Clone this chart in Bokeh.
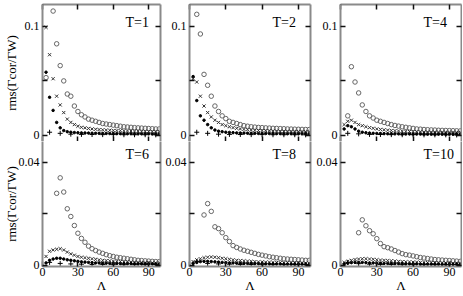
import numpy as np
from bokeh.plotting import figure
from bokeh.layouts import gridplot
from bokeh.models import Range1d, LinearAxis, FixedTicker, Label
from bokeh.embed import file_html
from bokeh.resources import INLINE

# ---- data ----
TITLES = ["T=1", "T=2", "T=4", "T=6", "T=8", "T=10"]
X_TICKS = [0, 30, 60, 90]
Y_TICKS_TOP = [0, 0.1]
Y_MINOR_TOP = [0.05]
Y_TICKS_BOT = [0, 0.04]
Y_MINOR_BOT = [0.02]

LAM = [3, 6, 9, 12, 15, 18, 21, 24, 27, 30, 33, 36, 39, 42, 45, 48, 51,
       54, 57, 60, 63, 66, 69, 72, 75, 78, 81, 84, 87, 90, 93, 96, 99]
PLUS_LAM = [6, 15, 24, 33, 42, 51, 60, 69, 78, 87, 96]

T1_CIRC = [0.053, None, 0.114, 0.084, 0.064, 0.050, 0.038, 0.036, 0.027, 0.022, 0.019,
           0.017, 0.015, 0.014, 0.013, 0.012, 0.011, 0.0105, 0.010, 0.0095, 0.009, 0.0085,
           0.008, 0.0078, 0.0075, 0.0072, 0.007, 0.0068, 0.0066, 0.0064, 0.0062, 0.006, 0.006]
T1_CROSS = [0.099, 0.074, 0.052, 0.036, 0.028, 0.021, 0.015, 0.012, 0.010, 0.0085, 0.0075,
            0.007, 0.0065, 0.006, 0.0057, 0.0054, 0.0052, 0.005, 0.0048, 0.0046, 0.0045, 0.0044,
            0.0043, 0.0042, 0.0041, 0.004, 0.004, 0.0039, 0.0038, 0.0038, 0.0037, 0.0037, 0.0036]
T1_DOT = [0.058, 0.035, 0.023, 0.012, 0.007, 0.0045, 0.0035, 0.003, 0.0027, 0.0025, 0.0024,
          0.0023, 0.0022, 0.0021, 0.002, 0.002, 0.0019, 0.0019, 0.0018, 0.0018, 0.0017, 0.0017,
          0.0017, 0.0016, 0.0016, 0.0016, 0.0015, 0.0015, 0.0015, 0.0015, 0.0014, 0.0014, 0.0014]
T1_PLUS = [0.003, 0.002, 0.0012, 0.001, 0.0009, 0.0008, 0.0008, 0.0007, 0.0007, 0.0007, 0.0006]

T2_CIRC = [None, 0.111, 0.093, 0.056, 0.046, 0.036, 0.027, 0.022, 0.018, 0.0155, 0.013,
           0.012, 0.011, 0.010, 0.009, 0.0085, 0.008, 0.0077, 0.0074, 0.0072, 0.007, 0.0068,
           0.0066, 0.0065, 0.0063, 0.0062, 0.006, 0.0059, 0.0058, 0.0057, 0.0056, 0.0055, 0.0055]
T2_CROSS = [0.052, 0.049, 0.036, 0.027, 0.021, 0.017, 0.014, 0.012, 0.010, 0.009, 0.008,
            0.0072, 0.0066, 0.006, 0.0056, 0.0053, 0.005, 0.0048, 0.0046, 0.0045, 0.0044, 0.0043,
            0.0042, 0.0041, 0.004, 0.004, 0.0039, 0.0038, 0.0038, 0.0037, 0.0037, 0.0036, 0.0036]
T2_DOT = [0.054, 0.032, 0.018, 0.014, 0.010, 0.007, 0.005, 0.004, 0.0035, 0.003, 0.0028,
          0.0026, 0.0024, 0.0023, 0.0022, 0.0021, 0.002, 0.002, 0.0019, 0.0019, 0.0018, 0.0018,
          0.0017, 0.0017, 0.0017, 0.0016, 0.0016, 0.0016, 0.0015, 0.0015, 0.0015, 0.0015, 0.0014]
T2_PLUS = [0.003, 0.002, 0.0012, 0.001, 0.0009, 0.0008, 0.0008, 0.0007, 0.0007, 0.0007, 0.0006]

T4_CIRC = [None, 0.018, 0.063, 0.049, 0.039, 0.028, 0.022, 0.018, 0.016, 0.014, 0.013,
           0.012, 0.011, 0.010, 0.0092, 0.0086, 0.008, 0.0075, 0.007, 0.0065, 0.006, 0.0058,
           0.0055, 0.0053, 0.0051, 0.005, 0.0048, 0.0047, 0.0046, 0.0045, 0.0044, 0.0043, 0.0042]
T4_CROSS = [0.010, 0.013, 0.014, 0.012, 0.010, 0.009, 0.008, 0.0072, 0.0066, 0.006, 0.0056,
            0.0052, 0.0049, 0.0046, 0.0044, 0.0042, 0.004, 0.0038, 0.0037, 0.0036, 0.0035, 0.0034,
            0.0033, 0.0033, 0.0032, 0.0032, 0.0031, 0.0031, 0.003, 0.003, 0.003, 0.0029, 0.0029]
T4_DOT = [0.006, 0.009, 0.008, 0.006, 0.004, 0.003, 0.0025, 0.0022, 0.002, 0.0019, 0.0018,
          0.0017, 0.0016, 0.0016, 0.0015, 0.0015, 0.0014, 0.0014, 0.0014, 0.0013, 0.0013, 0.0013,
          0.0013, 0.0012, 0.0012, 0.0012, 0.0012, 0.0012, 0.0011, 0.0011, 0.0011, 0.0011, 0.0011]
T4_PLUS = [0.002, 0.0015, 0.001, 0.0009, 0.0008, 0.0007, 0.0007, 0.0006, 0.0006, 0.0006, 0.0005]

T6_CIRC = [None, None, None, 0.028, 0.034, 0.0285, 0.022, 0.019, 0.0155, 0.0125, 0.0105,
           0.009, 0.0075, 0.0065, 0.0058, 0.0052, 0.0047, 0.0042, 0.0038, 0.0035, 0.0032, 0.003,
           0.0028, 0.0026, 0.0024, 0.0022, 0.002, 0.0019, 0.0018, 0.0017, 0.0016, 0.0015, 0.0015]
T6_CROSS = [0.0035, 0.0055, 0.006, 0.0063, 0.0065, 0.006, 0.0052, 0.0045, 0.004, 0.0035, 0.0032,
            0.003, 0.0028, 0.0026, 0.0024, 0.0022, 0.002, 0.0019, 0.0018, 0.0017, 0.0016, 0.0015,
            0.0014, 0.0014, 0.0013, 0.0013, 0.0012, 0.0012, 0.0011, 0.0011, 0.001, 0.001, 0.001]
T6_DOT = [0.001, 0.002, 0.0025, 0.0028, 0.0028, 0.0025, 0.0022, 0.002, 0.0018, 0.0016, 0.0014,
          0.0013, 0.0012, 0.0011, 0.001, 0.001, 0.0009, 0.0009, 0.0008, 0.0008, 0.0008, 0.0007,
          0.0007, 0.0007, 0.0007, 0.0006, 0.0006, 0.0006, 0.0006, 0.0006, 0.0006, 0.0005, 0.0005]
T6_PLUS = [0.0012, 0.0008, 0.0006, 0.0005, 0.0004, 0.0004, 0.0003, 0.0003, 0.0003, 0.0003, 0.0003]

T8_CIRC = [None, None, None, 0.0196, 0.024, 0.021, 0.015, 0.0143, 0.0127, 0.0108, 0.0093,
           0.0077, 0.007, 0.0064, 0.0059, 0.0055, 0.0051, 0.0047, 0.0043, 0.004, 0.0037, 0.0034,
           0.0032, 0.003, 0.0028, 0.0026, 0.0025, 0.0024, 0.0023, 0.0022, 0.0021, 0.002, 0.002]
T8_CROSS = [0.0015, 0.0022, 0.0026, 0.003, 0.0032, 0.0033, 0.0032, 0.003, 0.0028, 0.0026, 0.0024,
            0.0022, 0.002, 0.0019, 0.0018, 0.0017, 0.0016, 0.0015, 0.0014, 0.0014, 0.0013, 0.0013,
            0.0012, 0.0012, 0.0011, 0.0011, 0.0011, 0.001, 0.001, 0.001, 0.0009, 0.0009, 0.0009]
T8_DOT = [0.0008, 0.0012, 0.0015, 0.0016, 0.0016, 0.0015, 0.0014, 0.0013, 0.0012, 0.0011, 0.001,
          0.001, 0.0009, 0.0009, 0.0008, 0.0008, 0.0008, 0.0007, 0.0007, 0.0007, 0.0006, 0.0006,
          0.0006, 0.0006, 0.0006, 0.0005, 0.0005, 0.0005, 0.0005, 0.0005, 0.0005, 0.0004, 0.0004]
T8_PLUS = [0.0015, 0.0008, 0.0006, 0.0005, 0.0004, 0.0004, 0.0003, 0.0003, 0.0003, 0.0003, 0.0003]

T10_CIRC = [None, None, None, None, 0.0127, 0.0177, 0.0154, 0.0135, 0.0123, 0.0104, 0.0085,
            0.0073, 0.0069, 0.0064, 0.0058, 0.0052, 0.0046, 0.0042, 0.004, 0.0037, 0.0034, 0.0031,
            0.0029, 0.0027, 0.0025, 0.0023, 0.0022, 0.0021, 0.002, 0.0019, 0.0018, 0.0017, 0.0016]
T10_CROSS = [0.0012, 0.0016, 0.002, 0.0023, 0.0025, 0.0026, 0.0026, 0.0025, 0.0024, 0.0022, 0.0021,
             0.002, 0.0019, 0.0018, 0.0017, 0.0016, 0.0015, 0.0014, 0.0014, 0.0013, 0.0013, 0.0012,
             0.0012, 0.0011, 0.0011, 0.0011, 0.001, 0.001, 0.001, 0.001, 0.0009, 0.0009, 0.0009]
T10_DOT = [0.0006, 0.0009, 0.0011, 0.0012, 0.0012, 0.0012, 0.0011, 0.001, 0.001, 0.0009, 0.0009,
           0.0008, 0.0008, 0.0008, 0.0007, 0.0007, 0.0007, 0.0006, 0.0006, 0.0006, 0.0006, 0.0005,
           0.0005, 0.0005, 0.0005, 0.0005, 0.0005, 0.0004, 0.0004, 0.0004, 0.0004, 0.0004, 0.0004]
T10_PLUS = [0.0012, 0.0007, 0.0005, 0.0004, 0.0004, 0.0003, 0.0003, 0.0003, 0.0003, 0.0003, 0.0003]

PANELS = [
    (T1_CIRC, T1_CROSS, T1_DOT, T1_PLUS),
    (T2_CIRC, T2_CROSS, T2_DOT, T2_PLUS),
    (T4_CIRC, T4_CROSS, T4_DOT, T4_PLUS),
    (T6_CIRC, T6_CROSS, T6_DOT, T6_PLUS),
    (T8_CIRC, T8_CROSS, T8_DOT, T8_PLUS),
    (T10_CIRC, T10_CROSS, T10_DOT, T10_PLUS),
]

YLABEL = "rms(Γcor/ΓW)"
XLABEL = "Λ"

FONT = "Liberation Serif"
FRAME_W = 121
BORDER = "#8a8a8a"
LEFT_BORDERS = [39, 27, 28]
RIGHT_BORDERS = [2, 2, 1]
TOP_FRAME_H = 137
BOT_FRAME_H = 126
TOP_BORDER = 4
BOT_BORDER = 28


def style_axis(ax, show_line=True, show_labels=False):
    ax.axis_line_color = BORDER if show_line else None
    ax.axis_line_width = 2
    ax.major_tick_in = 5
    ax.major_tick_out = 0
    ax.minor_tick_in = 5
    ax.minor_tick_out = 0
    ax.major_tick_line_color = "#111111"
    ax.minor_tick_line_color = "#111111"
    ax.major_tick_line_width = 1.5
    ax.minor_tick_line_width = 1.5
    ax.axis_label_text_font = FONT
    ax.axis_label_text_font_style = "normal"
    ax.axis_label_text_color = "black"
    if show_labels:
        ax.major_label_text_font = FONT
        ax.major_label_text_font_size = "12px"
        ax.major_label_text_color = "black"
        ax.major_label_standoff = 3
    else:
        ax.major_label_text_color = None
        ax.major_label_text_font_size = "0px"
        ax.major_label_standoff = 0


def make_panel(i):
    row, col = divmod(i, 3)
    top = row == 0
    if top:
        h = TOP_BORDER + TOP_FRAME_H
        yr = Range1d(-0.0055, 0.12)
    else:
        h = BOT_FRAME_H + BOT_BORDER
        yr = Range1d(-0.0004, 0.0481)
    w = LEFT_BORDERS[col] + FRAME_W + RIGHT_BORDERS[col]
    p = figure(width=w, height=h,
               x_range=Range1d(0, 100), y_range=yr,
               output_backend="svg", toolbar_location=None, tools="",
               min_border_left=LEFT_BORDERS[col],
               min_border_right=RIGHT_BORDERS[col],
               min_border_top=TOP_BORDER if top else 0,
               min_border_bottom=0 if top else BOT_BORDER)
    p.outline_line_color = None
    p.grid.visible = False
    p.background_fill_color = "white"
    p.border_fill_color = "white"

    xt = FixedTicker(ticks=X_TICKS)
    if top:
        yt = FixedTicker(ticks=Y_TICKS_TOP, minor_ticks=Y_MINOR_TOP)
    else:
        yt = FixedTicker(ticks=Y_TICKS_BOT, minor_ticks=Y_MINOR_BOT)

    xa = p.xaxis[0]
    xa.ticker = xt
    style_axis(xa, show_line=not top, show_labels=not top)
    if not top:
        xa.axis_label = XLABEL
        xa.axis_label_text_font_size = "13px"
        xa.axis_label_standoff = -1
        xa.major_label_standoff = 1

    ya = p.yaxis[0]
    ya.ticker = yt
    style_axis(ya, show_line=True, show_labels=True)
    if col == 0:
        ya.axis_label = YLABEL
        ya.axis_label_text_font_size = "13px"
        ya.axis_label_standoff = 3 if top else -3

    ra = LinearAxis(ticker=FixedTicker(ticks=yt.ticks, minor_ticks=yt.minor_ticks))
    style_axis(ra, show_line=True, show_labels=False)
    p.add_layout(ra, "right")

    if top:
        ta = LinearAxis(ticker=FixedTicker(ticks=X_TICKS))
        style_axis(ta, show_line=True, show_labels=False)
        p.add_layout(ta, "above")

    circ, cross, dot, plus = PANELS[i]
    lam = np.array(LAM, dtype=float)
    p.scatter(lam, np.array(circ, dtype=float), marker="circle", size=4.5,
              line_color="#666666", line_width=1, fill_color=None)
    p.scatter(lam, np.array(cross, dtype=float), marker="x", size=4.5,
              line_color="#333333", line_width=1)
    p.scatter(lam, np.array(dot, dtype=float), marker="circle", size=2.5,
              line_color="black", fill_color="black")
    p.scatter(np.array(PLUS_LAM, dtype=float), np.array(plus, dtype=float),
              marker="cross", size=5, line_color="black", line_width=1)

    fh = TOP_FRAME_H if top else BOT_FRAME_H
    p.add_layout(Label(x=83, y=fh - 18 if top else fh - 14,
                       x_units="screen", y_units="screen",
                       text=TITLES[i], text_align="left", text_baseline="alphabetic",
                       text_font=FONT, text_font_size="14px", text_color="black"))
    return p


figs = [make_panel(i) for i in range(6)]
grid = gridplot([figs[0:3], figs[3:6]], toolbar_location=None)

open("out.html", "w").write(file_html(grid, INLINE))
